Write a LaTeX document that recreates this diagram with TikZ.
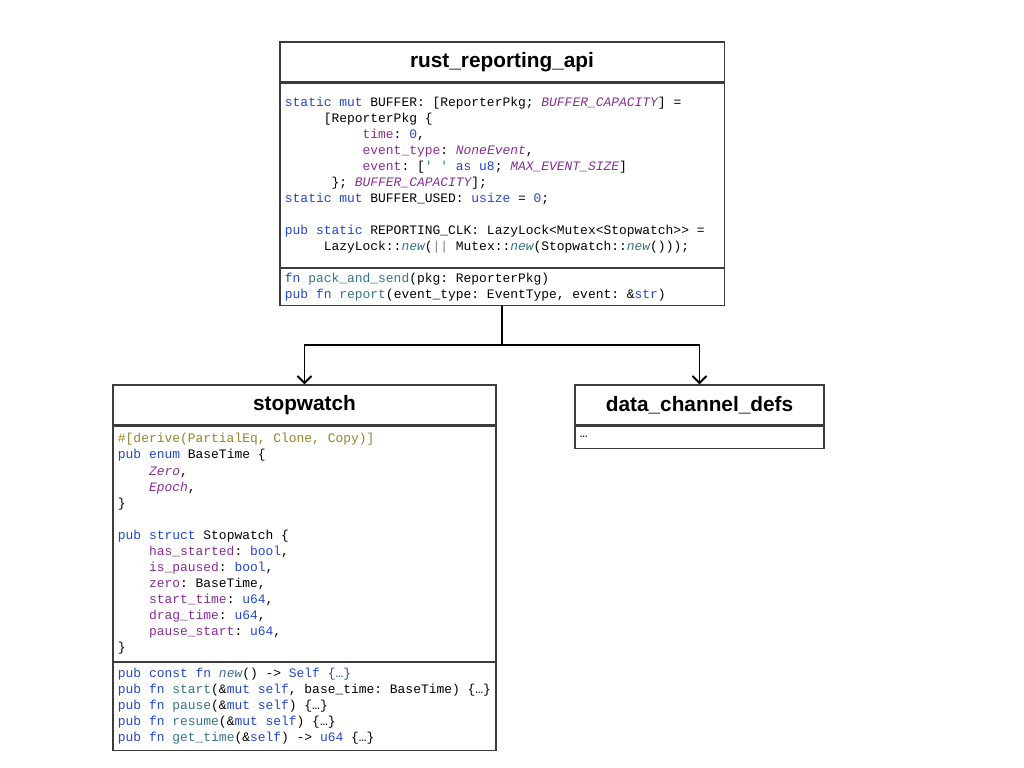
\documentclass[tikz,border=0pt]{standalone}
\usepackage{fontspec}
\setmainfont{Liberation Sans}
\setmonofont{Liberation Mono}
\usetikzlibrary{arrows.meta}

\definecolor{kwblue}{RGB}{35,70,200}
\definecolor{fldpurple}{RGB}{135,45,150}
\definecolor{fnteal}{RGB}{55,115,135}
\definecolor{strgreen}{RGB}{50,150,120}
\definecolor{attrolive}{RGB}{150,130,40}
\definecolor{boxline}{RGB}{60,60,60}

\newcommand{\kwd}[1]{\textcolor{kwblue}{#1}}
\newcommand{\fld}[1]{\textcolor{fldpurple}{#1}}
\newcommand{\cnst}[1]{\textcolor{fldpurple}{\itshape #1}}
\newcommand{\fnc}[1]{\textcolor{fnteal}{#1}}
\newcommand{\nw}{\textcolor{fnteal}{\itshape new}}
\newcommand{\ind}[1]{\hspace*{\dimexpr 0.6em*#1\relax}}
\newcommand{\codefont}{\fontsize{9.21}{11.38}\selectfont\ttfamily}
\newcommand{\codespacing}{\spaceskip=0.6em\relax \xspaceskip=0.6em\relax}

\tikzset{boxtitle/.style={draw=boxline, line width=0.8pt, minimum height=1cm, inner sep=0pt,
                          font=\fontsize{14.8}{16}\selectfont\bfseries},
         codebox/.style={draw=boxline, line width=0.8pt, align=left, inner xsep=0.125cm, inner ysep=0pt,
                         font=\codefont, execute at begin node=\codespacing},
         link/.style={line width=1.4pt, -{Straight Barb[length=5pt,width=10pt]}}}

\begin{document}
\begin{tikzpicture}[x=0.025cm, y=-0.025cm]
                \fill[white] (0,0) rectangle (1024,768);
                \useasboundingbox (0,0) rectangle (1024,768);

                \node[boxtitle, minimum width=11.1cm] (apititle) at (502, 62) {rust\_reporting\_api};
                \node[codebox, anchor=north, text width=10.85cm, minimum height=4.6cm] (apibody) at (apititle.south)
                    {\kwd{static mut} BUFFER: [ReporterPkg; \cnst{BUFFER\_CAPACITY}] =\\
                     \ind{5}[ReporterPkg \{\\
                     \ind{10}\fld{time}: \kwd{0},\\
                     \ind{10}\fld{event\_type}: \cnst{NoneEvent},\\
                     \ind{10}\fld{event}: [\textcolor{strgreen}{\textquotesingle\ \textquotesingle} \kwd{as u8}; \cnst{MAX\_EVENT\_SIZE}]\\
                     \ind{6}\}; \cnst{BUFFER\_CAPACITY}];\\
                     \kwd{static mut} BUFFER\_USED: \kwd{usize} = \kwd{0};\\
                     \mbox{}\\
                     \kwd{pub static} REPORTING\_CLK: LazyLock<Mutex<Stopwatch>{}> =\\
                     \ind{5}LazyLock::\nw(\textcolor{gray}{|{}|} Mutex::\nw(Stopwatch::\nw()));};
                \node[codebox, anchor=north, text width=10.85cm, minimum height=0.925cm] (apimeth) at (apibody.south)
                    {\kwd{fn} \fnc{pack\_and\_send}(pkg: ReporterPkg)\\
                     \kwd{pub fn} \fnc{report}(event\_type: EventType, event: \&\kwd{str})};

                \node[boxtitle, minimum width=9.575cm] (swtitle) at (304.5, 405) {stopwatch};
                \node[codebox, anchor=north, text width=9.325cm, minimum height=5.875cm] (swbody) at (swtitle.south)
                    {\textcolor{attrolive}{\#[derive(PartialEq, Clone, Copy)]}\\
                     \kwd{pub enum} BaseTime \{\\
                     \ind{4}\cnst{Zero},\\
                     \ind{4}\cnst{Epoch},\\
                     \}\\
                     \mbox{}\\
                     \kwd{pub struct} Stopwatch \{\\
                     \ind{4}\fld{has\_started}: \kwd{bool},\\
                     \ind{4}\fld{is\_paused}: \kwd{bool},\\
                     \ind{4}\fld{zero}: BaseTime,\\
                     \ind{4}\fld{start\_time}: \kwd{u64},\\
                     \ind{4}\fld{drag\_time}: \kwd{u64},\\
                     \ind{4}\fld{pause\_start}: \kwd{u64},\\
                     \}};
                \node[codebox, anchor=north, text width=9.325cm, minimum height=2.2cm] (swmeth) at (swbody.south)
                    {\kwd{pub const fn} \nw() -> \kwd{Self \{…\}}\\
                     \kwd{pub fn} \fnc{start}(\&\kwd{mut self}, base\_time: BaseTime) \{…\}\\
                     \kwd{pub fn} \fnc{pause}(\&\kwd{mut self}) \{…\}\\
                     \kwd{pub fn} \fnc{resume}(\&\kwd{mut self}) \{…\}\\
                     \kwd{pub fn} \fnc{get\_time}(\&\kwd{self}) -> \kwd{u64} \{…\}};

                \node[boxtitle, minimum width=6.225cm] (dctitle) at (699.5, 405) {data\_channel\_defs};
                \node[codebox, anchor=north, text width=5.975cm, minimum height=0.55cm] (dcbody) at (dctitle.south) {…};

                \coordinate (fork) at (502, 345);
                \draw[line width=1.4pt] (apimeth.south) -- (fork);
                \draw[link] (fork) -| (swtitle.north);
                \draw[link] (fork) -| (dctitle.north);
\end{tikzpicture}
\end{document}
